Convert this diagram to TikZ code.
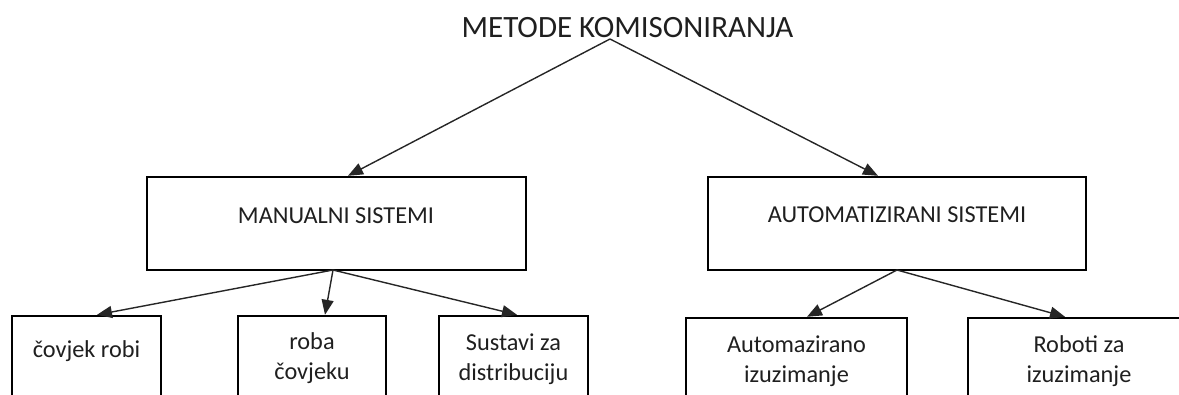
\documentclass[tikz,border=0pt]{standalone}
\usepackage{fontspec}
\setmainfont{Carlito}
\usetikzlibrary{arrows.meta}
\begin{document}
\begin{tikzpicture}[x=1pt,y=-1pt,
  box/.style={draw=black, line width=2.4pt, rectangle, inner sep=0pt, fill=none},
  txt/.style={font=\fontsize{24.3}{30}\selectfont, inner sep=0pt, align=center, text=black!88},
  ttl/.style={font=\fontsize{31}{36}\selectfont, inner sep=0pt, text=black!88},
  arr/.style={draw=black!85, line width=1.4pt, -{Triangle[length=15pt,width=12pt]}},
  ln/.style={draw=black!85, line width=1.4pt}]
\useasboundingbox (0,0) rectangle (1179,394);
\clip (0,0) rectangle (1179,394);
% title
\node[ttl, anchor=base] (title) at (627.5,37) {METODE KOMISONIRANJA};
\coordinate (ta) at (610,39);
% level 1
\node[box, minimum width=379pt, minimum height=93pt] (man) at (336.5,223.5) {};
\node[txt, anchor=base] (mant) at (336,223) {MANUALNI SISTEMI};
\node[box, minimum width=378pt, minimum height=93pt] (aut) at (897,223.5) {};
\node[txt, anchor=base] (autt) at (897,222) {AUTOMATIZIRANI SISTEMI};
\coordinate (mb) at (333,270);
\coordinate (ab) at (897,270);
% level 2 (boxes run below the picture edge)
\node[box, minimum width=149pt, minimum height=120pt] (c1) at (86.5,376) {};
\node[box, minimum width=148pt, minimum height=120pt] (c2) at (312,376) {};
\node[box, minimum width=149pt, minimum height=120pt] (c3) at (513.5,376) {};
\node[box, minimum width=221pt, minimum height=120pt] (c4) at (796.5,378) {};
\node[box, minimum width=222pt, minimum height=120pt] (c5) at (1079,378) {};
\node[txt, anchor=base] (c1t) at (86.5,357) {čovjek robi};
\node[txt, anchor=base] (c2t) at (312,379) {roba\\čovjeku};
\node[txt, anchor=base] (c3t) at (513.5,380) {Sustavi za\\distribuciju};
\node[txt, anchor=base] (c4t) at (796.5,382) {Automazirano\\izuzimanje};
\node[txt, anchor=base] (c5t) at (1079,382) {Roboti za\\izuzimanje};
% connectors
\draw[arr] (ta) -- ([xshift=11.5pt]man.north);
\draw[arr] (ta) -- ([xshift=-19pt]aut.north);
\draw[arr] (mb) -- ([xshift=10.5pt]c1.north);
\draw[arr] (mb) -- ([xshift=13pt]c2.north);
\draw[arr] (mb) -- ([xshift=3.5pt]c3.north);
\draw[arr] (ab) -- ([xshift=10.5pt]c4.north);
\draw[arr] (ab) -- ([xshift=-14pt]c5.north);
\end{tikzpicture}
\end{document}
